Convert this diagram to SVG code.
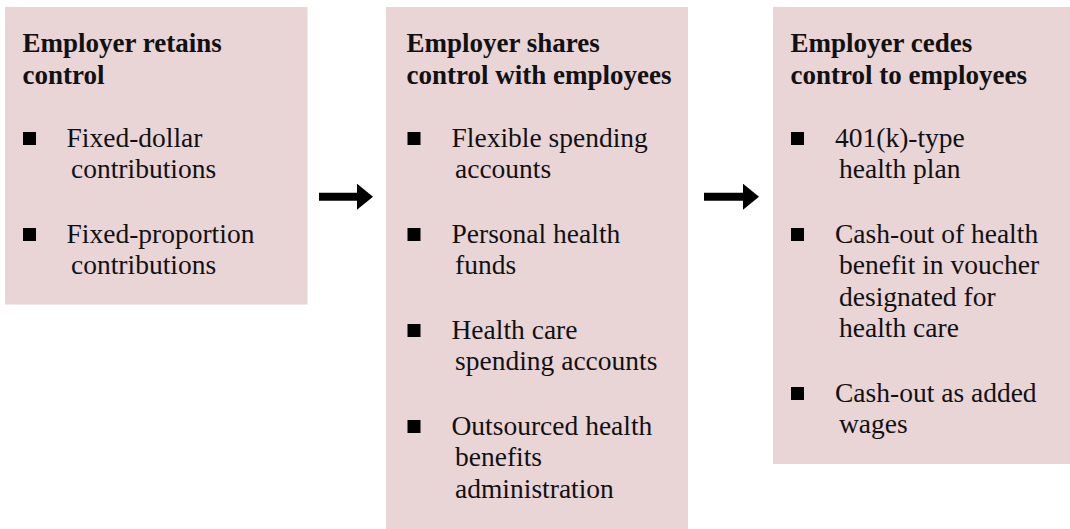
<svg xmlns="http://www.w3.org/2000/svg" width="1070" height="529" viewBox="0 0 1070 529">
  <style>
    .panel { fill: #e9d4d6; }
    .head { font-family: "Liberation Serif", "Times New Roman", serif; font-size: 27px; font-weight: bold; fill: #111; }
    .item { font-family: "Liberation Serif", "Times New Roman", serif; font-size: 27.5px; fill: #111; }
    .dot { fill: #000; }
    .shaft { stroke: #000; stroke-width: 8; fill: none; }
  </style>
  <defs>
    <marker id="head" markerUnits="userSpaceOnUse" viewBox="0 0 16 26" markerWidth="16" markerHeight="26" refX="1" refY="13" orient="auto">
      <path d="M0,0 L16,13 L0,26 Z" fill="#000"/>
    </marker>
  </defs>

  <!-- Stage 1 -->
  <g id="retains">
    <rect class="panel" x="5" y="7" width="302.5" height="297.5"/>
    <text class="head" x="22.5" y="52">Employer retains</text>
    <text class="head" x="22.5" y="83.5">control</text>
    <rect class="dot" x="23" y="132" width="13" height="13"/>
    <text class="item" x="66.5" y="146.5">Fixed-dollar</text>
    <text class="item" x="71" y="178">contributions</text>
    <rect class="dot" x="23" y="228" width="13" height="13"/>
    <text class="item" x="66.5" y="242.5">Fixed-proportion</text>
    <text class="item" x="71" y="274">contributions</text>
  </g>

  <!-- Stage 2 -->
  <g id="shares">
    <rect class="panel" x="386" y="7" width="302" height="522"/>
    <text class="head" x="406.5" y="52">Employer shares</text>
    <text class="head" x="406.5" y="83.5">control with employees</text>
    <rect class="dot" x="407.5" y="132" width="13" height="13"/>
    <text class="item" x="451.5" y="146.5">Flexible spending</text>
    <text class="item" x="455" y="178">accounts</text>
    <rect class="dot" x="407.5" y="228" width="13" height="13"/>
    <text class="item" x="451.5" y="242.5">Personal health</text>
    <text class="item" x="455" y="274">funds</text>
    <rect class="dot" x="407.5" y="324" width="13" height="13"/>
    <text class="item" x="451.5" y="338.5">Health care</text>
    <text class="item" x="455" y="370">spending accounts</text>
    <rect class="dot" x="407.5" y="420" width="13" height="13"/>
    <text class="item" x="451.5" y="434.5">Outsourced health</text>
    <text class="item" x="455" y="466">benefits</text>
    <text class="item" x="455" y="497.5">administration</text>
  </g>

  <!-- Stage 3 -->
  <g id="cedes">
    <rect class="panel" x="773" y="7" width="297" height="457"/>
    <text class="head" x="790.5" y="52">Employer cedes</text>
    <text class="head" x="790.5" y="83.5">control to employees</text>
    <rect class="dot" x="791" y="132" width="13" height="13"/>
    <text class="item" x="835" y="146.5">401(k)-type</text>
    <text class="item" x="839" y="178">health plan</text>
    <rect class="dot" x="791" y="228" width="13" height="13"/>
    <text class="item" x="835" y="242.5">Cash-out of health</text>
    <text class="item" x="839" y="274">benefit in voucher</text>
    <text class="item" x="839" y="305.5">designated for</text>
    <text class="item" x="839" y="337">health care</text>
    <rect class="dot" x="791" y="387" width="13" height="13"/>
    <text class="item" x="835" y="401.5">Cash-out as added</text>
    <text class="item" x="839" y="433">wages</text>
  </g>

  <!-- Flow arrows between stages -->
  <g id="connectors">
    <line class="shaft" x1="319" y1="196.7" x2="358" y2="196.7" marker-end="url(#head)"/>
    <line class="shaft" x1="704" y1="196.7" x2="744" y2="196.7" marker-end="url(#head)"/>
  </g>
</svg>
